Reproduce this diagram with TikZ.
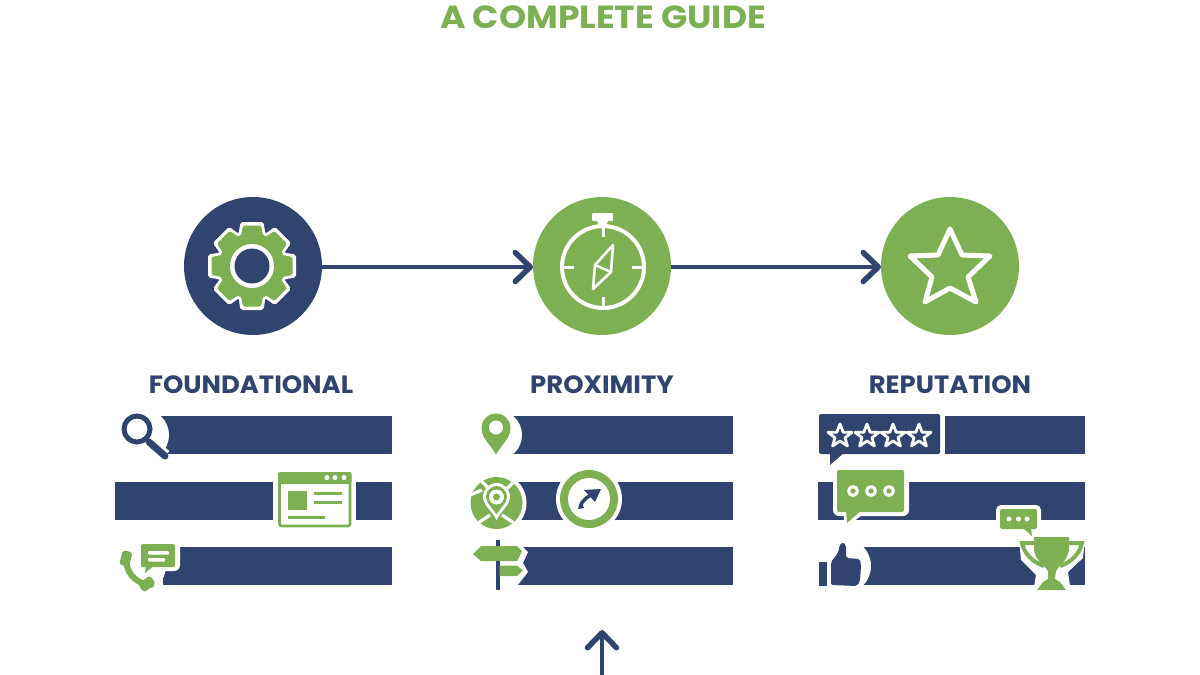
\documentclass[tikz,border=0pt]{standalone}
\usepackage{fontspec}
\setmainfont{Poppins}
\usetikzlibrary{arrows.meta}
\definecolor{navy}{HTML}{31446F}
\definecolor{leaf}{HTML}{7DB052}
\tikzset{
  x=1pt,y=-1pt,
  disc/.style={circle,minimum size=138pt,inner sep=0pt,outer sep=0pt},
  flow/.style={draw=navy,line width=4.5pt,-{Straight Barb[length=15pt,width=29pt,line width=5.5pt,round]}},
  headtxt/.style={font=\bfseries\addfontfeature{FakeStretch=1.035}\fontsize{25}{27}\selectfont,text=navy,inner sep=0pt},
  bar/.style={fill=navy},
  cut/.style={fill=white},
}
\newcommand{\ministar}[2]{%
  \draw[fill=navy,draw=white,line width=2.8pt,line join=round,shift={(#1,#2)}]
    (0,-12)--(3.2,-3.7)--(12,-3.7)--(5,1.7)--(7.4,10)--(0,5)--(-7.4,10)--(-5,1.7)--(-12,-3.7)--(-3.2,-3.7)--cycle;}
\begin{document}
\begin{tikzpicture}
\useasboundingbox (0,0) rectangle (1200,675);
\fill[white] (0,0) rectangle (1200,675);
% title
\node[font=\bfseries\addfontfeature{FakeStretch=1.08}\fontsize{32}{34}\selectfont,text=leaf,inner sep=0pt] (title) at (603,17.5) {A COMPLETE GUIDE};
% discs
\node[disc,fill=navy] (d1) at (253,266) {};
\node[disc,fill=leaf] (d2) at (602,266) {};
\node[disc,fill=leaf] (d3) at (950,266) {};
\draw[flow] (d1.east |- 0,267) -- (d2.west |- 0,267);
\draw[flow] (d2.east |- 0,267) -- (d3.west |- 0,267);
% gear
\begin{scope}[shift={(252,266)}]
  \foreach \a in {0,45,...,315}{
    \fill[white,rotate=\a,rounded corners=2pt] (-14,-28) -- (-11.5,-44) -- (11.5,-44) -- (14,-28) -- cycle;}
  \fill[white] (0,0) circle (36);
  \foreach \a in {0,45,...,315}{
    \fill[leaf,rotate=\a,rounded corners=1.5pt] (-11.5,-28) -- (-9,-40.5) -- (9,-40.5) -- (11.5,-28) -- cycle;}
  \fill[leaf] (0,0) circle (33);
  \fill[white] (0,0) circle (22);
  \fill[navy] (0,0) circle (17.5);
\end{scope}
% compass
\begin{scope}
  \draw[white,line width=4pt] (603,267) circle (41);
  \fill[white,rounded corners=1pt] (592,213) rectangle (613,221);
  \fill[white] (597,221) -- (608,221) -- (605,228) -- (600,228) -- cycle;
  \draw[white,line width=3pt] (603,226) -- (603,237);
  \draw[white,line width=3pt] (603,297) -- (603,306);
  \draw[white,line width=3pt] (564,267) -- (574,267);
  \draw[white,line width=3pt] (632,267) -- (642,267);
  \draw[white,line width=2.6pt,line join=round] (613,245) -- (595,265) -- (593,289) -- (611,272) -- cycle;
  \draw[white,line width=2.4pt] (595,265) -- (611,272);
\end{scope}
% star
\draw[white,line width=5pt,line join=round]
  (950,229) -- (962,255) -- (990,256) -- (968,277) -- (976,302) -- (950,288) -- (925,302) -- (932,277) -- (910,256) -- (938,255) -- cycle;
% headings
\node[headtxt] (h1) at (251,385) {FOUNDATIONAL};
\node[headtxt] (h2) at (602,385) {PROXIMITY};
\node[headtxt] (h3) at (950,385) {REPUTATION};
% bars col 1
\fill[bar] (150,416) rectangle (392,454);
\fill[bar] (115,482) rectangle (392,520);
\fill[bar] (150,547) rectangle (392,585);
% bars col 2
\fill[bar] (500,416) rectangle (733,454);
\fill[bar] (500,482) rectangle (733,520);
\fill[bar] (500,547) rectangle (733,585);
% bars col 3
\fill[bar] (945,416) rectangle (1085,454);
\fill[bar] (818,482) rectangle (1085,520);
\fill[bar] (840,547) rectangle (1085,585);
% --- col 1 icons
\fill[cut] (143,435) circle (26);
\draw[white,line width=13pt] (148,441) -- (165,456);
\draw[navy,line width=5pt] (137,429) circle (13);
\draw[navy,line width=7pt,line cap=round] (149,442) -- (165,456);
% window
\fill[cut] (273,470) rectangle (356,530);
\fill[white,draw=leaf,line width=2.6pt,rounded corners=2pt] (279.5,473.5) rectangle (350,526);
\fill[leaf,rounded corners=2pt] (278,472) rectangle (351.5,484);
\fill[white] (327,477.5) circle (2.5) (335,477.5) circle (2.5) (344,477.5) circle (2.5);
\fill[leaf] (288,491) rectangle (307,510);
\fill[leaf] (314,491.5) rectangle (342,495);
\fill[leaf] (314,500.5) rectangle (342,504);
\fill[leaf] (288,515.5) rectangle (325,519);
% phone + chat
\fill[cut,rounded corners=6pt] (130,540) rectangle (180,571);
\fill[cut] (140,566) circle (26);
\fill[cut] (120,560) rectangle (163,590);
\draw[leaf,line width=6pt,line cap=round] (127,556) .. controls (124,571) and (135,584) .. (151,585);
\fill[leaf,rotate around={-15:(126,558)},rounded corners=3pt] (121,551) rectangle (131,566);
\fill[leaf,rotate around={-50:(148,583)},rounded corners=3pt] (143,577) rectangle (153,592);
\fill[white,rounded corners=1pt] (138,541) rectangle (178,570);
\fill[leaf,rounded corners=1.5pt] (141,544) rectangle (175,567);
\fill[leaf] (146,565) -- (145,573) -- (155,565) -- cycle;
\fill[white,rounded corners=1pt] (148,551) rectangle (169,554.5);
\fill[white,rounded corners=1pt] (148,558) rectangle (165,561.5);
% --- col 2 icons
\fill[cut] (497,435) circle (25);
\fill[leaf] (496,454.5) .. controls (490,444) and (481.5,438) .. (481.5,428) .. controls (481.5,420) and (488,413.5) .. (496,413.5) .. controls (504,413.5) and (510.5,420) .. (510.5,428) .. controls (510.5,438) and (502,444) .. (496,454.5) -- cycle;
\fill[white] (496,427.5) circle (7);
% map disc
\fill[cut] (496,503) circle (30.5);
\fill[leaf] (496.5,503) circle (26);
\begin{scope}
  \clip (496.5,503) circle (26);
  \draw[white,line width=3.2pt] (478,478) -- (498,497) -- (518,478);
  \draw[white,line width=3.2pt] (472,527) -- (490,515) (520,527) -- (502,515);
  \draw[white,line width=3.2pt] (470,495) -- (482,490);
\end{scope}
\fill[white] (496.5,520) .. controls (492,511) and (483,505) .. (483,497) .. controls (483,489) and (489,483) .. (496.5,483) .. controls (504,483) and (510,489) .. (510,497) .. controls (510,505) and (501,511) .. (496.5,520) -- cycle;
\fill[leaf] (496.5,514.5) .. controls (493,508) and (486,503) .. (486,497) .. controls (486,491) and (491,486) .. (496.5,486) .. controls (502,486) and (507,491) .. (507,497) .. controls (507,503) and (500,508) .. (496.5,514.5) -- cycle;
\fill[white] (496.5,497) circle (7.5);
\fill[leaf] (496.5,497) circle (3.5);
% compass ring
\fill[cut] (589,499) circle (33);
\fill[leaf] (589,499) circle (29);
\fill[white] (589,499) circle (21);
\draw[navy,line width=3.5pt] (580,507) .. controls (582,500) and (588,496) .. (596,493);
\fill[navy] (601,489) -- (584,490) -- (595,502) -- cycle;
\fill[navy] (578,509) -- (584,508) -- (581,501) -- cycle;
% signpost
\fill[cut] (470,540) -- (523,540) -- (523,547) -- (528,552) -- (523,563) -- (528,572) -- (517,586) -- (470,586) -- cycle;
\fill[navy] (495.5,540) rectangle (499.5,590);
\fill[leaf] (473,554) -- (481,546) -- (517,546) -- (522,551) -- (517,561) -- (481,561) -- cycle;
\fill[navy] (495.5,561) rectangle (499.5,566);
\fill[leaf] (499.5,565.5) -- (517,565.5) -- (523,570.5) -- (517,576) -- (499.5,576) -- cycle;
% --- col 3 icons
\fill[navy,rounded corners=1.5pt] (819,414) rectangle (940,454);
\fill[navy] (830,452) -- (830,465) -- (845,452) -- cycle;
\ministar{840}{436}\ministar{867}{436}\ministar{893}{436}\ministar{919}{436}
% green bubble
\fill[white,rounded corners=6pt] (833,466) rectangle (909,516);
\fill[white] (843,510) -- (845,528) -- (866,512) -- cycle;
\fill[leaf,rounded corners=2pt] (837,470) rectangle (904,512);
\fill[leaf] (846,510) -- (847,523) -- (862,510) -- cycle;
\foreach \x in {853,871,889}{
  \fill[white] (\x,491) circle (5.8);
  \fill[leaf] (\x,491) circle (2.6);}
% thumb
\fill[cut] (843,566) circle (28);
\fill[cut] (815,540) rectangle (843,590);
\fill[navy] (818.5,562) rectangle (827,586);
\fill[navy,rounded corners=2pt] (831,562) -- (838,553) -- (840,544) -- (843,542) -- (846,545) -- (846,558) -- (860,559) -- (861,566) -- (860,581) -- (857,586) -- (831,585) -- cycle;
% small bubble
\fill[white,rounded corners=5pt] (996,505) rectangle (1041,533);
\fill[leaf,rounded corners=1.5pt] (1000,509) rectangle (1037,529);
\fill[leaf] (1023,528) -- (1032,536) -- (1031,528) -- cycle;
\fill[white] (1009,519) circle (2.5) (1018.5,519) circle (2.5) (1027,519) circle (2.5);
% trophy
\fill[white,line join=round] (1019,538) -- (1085,538) -- (1083,558) -- (1068,572) -- (1071,593) -- (1033,593) -- (1036,575) -- (1021,560) -- cycle;
\draw[leaf,line width=4pt] (1036,543) -- (1022,543) .. controls (1024,553) and (1032,562) .. (1044,566);
\draw[leaf,line width=4pt] (1068,543) -- (1082,543) .. controls (1080,553) and (1072,562) .. (1060,566);
\fill[leaf] (1034,537) -- (1069,537) -- (1069,550) .. controls (1067,562) and (1058,566) .. (1056,571) -- (1055,579) -- (1060,582) -- (1066,590) -- (1037,590) -- (1043,582) -- (1048,579) -- (1048,571) .. controls (1045,566) and (1036,562) .. (1034,550) -- cycle;
% up arrow
\coordinate (upfrom) at (602,675);
\coordinate (upto) at (602,630);
\draw[flow] (upfrom) -- (upto);
\end{tikzpicture}
\end{document}
